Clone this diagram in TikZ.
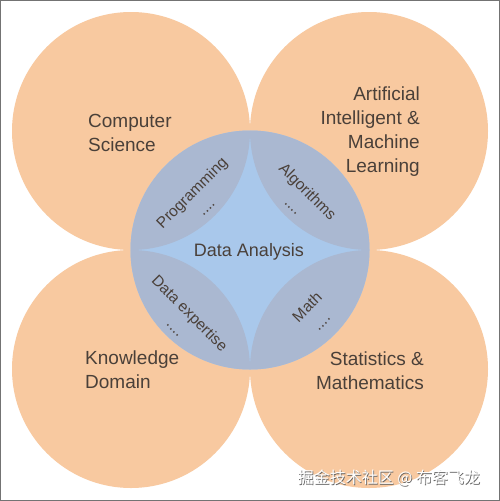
\documentclass[tikz,border=0pt]{standalone}
\usepackage{fontspec}
\setmainfont{Liberation Sans}
\newfontfamily\cjkfont{Noto Sans CJK SC}
\definecolor{orangefill}{HTML}{F8C9A0}
\definecolor{lensfill}{HTML}{AAB8D1}
\definecolor{starfill}{HTML}{A9C8EB}
\definecolor{labeltext}{HTML}{4A4039}
\begin{document}
\begin{tikzpicture}[x=1pt,y=-1pt,
  outerlabel/.style={font=\fontsize{19}{24}\selectfont, text=labeltext, inner sep=0pt},
  innerlabel/.style={font=\fontsize{15.5}{20}\selectfont, text=labeltext, inner sep=0pt, align=center},
  wmtext/.style={font=\cjkfont\fontsize{16}{16}\selectfont, inner sep=0pt}]
\useasboundingbox (0,0) rectangle (500,501);
\fill[white] (0,0) rectangle (500,501);
\draw[black!55, line width=1pt] (0.5,0.5) rectangle (499.5,500.5);
% centres
\coordinate (tl) at (131,131);
\coordinate (tr) at (369,131);
\coordinate (bl) at (131,369);
\coordinate (br) at (369,369);
\coordinate (c) at (250,250);
% outer circles
\foreach \p in {tl,tr,bl,br}
  \fill[orangefill] (\p) circle[radius=119pt];
% central circle (star area)
\fill[starfill] (c) circle[radius=119.5pt];
% lenses
\begin{scope}
  \clip (c) circle[radius=119.5pt];
  \foreach \p in {tl,tr,bl,br}
    \fill[lensfill] (\p) circle[radius=119pt];
\end{scope}
% outer labels (base anchor = baseline of last line)
\node[outerlabel, align=left, anchor=base west] (cs) at (88,151) {Computer\\Science};
\node[outerlabel, align=right, anchor=base east] (ai) at (420,172) {Artificial\\Intelligent \&\\Machine\\Learning};
\node[outerlabel, align=left, anchor=base west] (kd) at (85,388) {Knowledge\\Domain};
\node[outerlabel, align=right, anchor=base east] (sm) at (424,389) {Statistics \&\\Mathematics};
% centre label
\node[font=\fontsize{18}{22}\selectfont, text=labeltext, inner sep=0pt, anchor=base] (da) at (249,256) {Data Analysis};
% lens labels
\node[innerlabel, rotate=45] (prog) at (198.5,199.5) {Programming\\....};
\node[innerlabel, rotate=-45] (algo) at (301,198.5) {Algorithms\\....};
\node[innerlabel, rotate=-45] (dexp) at (183,320) {Data expertise\\....};
\node[innerlabel, rotate=45] (math) at (314,314) {Math\\....};
% watermark
\node[wmtext, text=black!60] (wmshadow) at (389.7,478.7) {掘金技术社区 @ 布客飞龙};
\node[wmtext, text=white] (wm) at (389,478) {掘金技术社区 @ 布客飞龙};
\end{tikzpicture}
\end{document}
